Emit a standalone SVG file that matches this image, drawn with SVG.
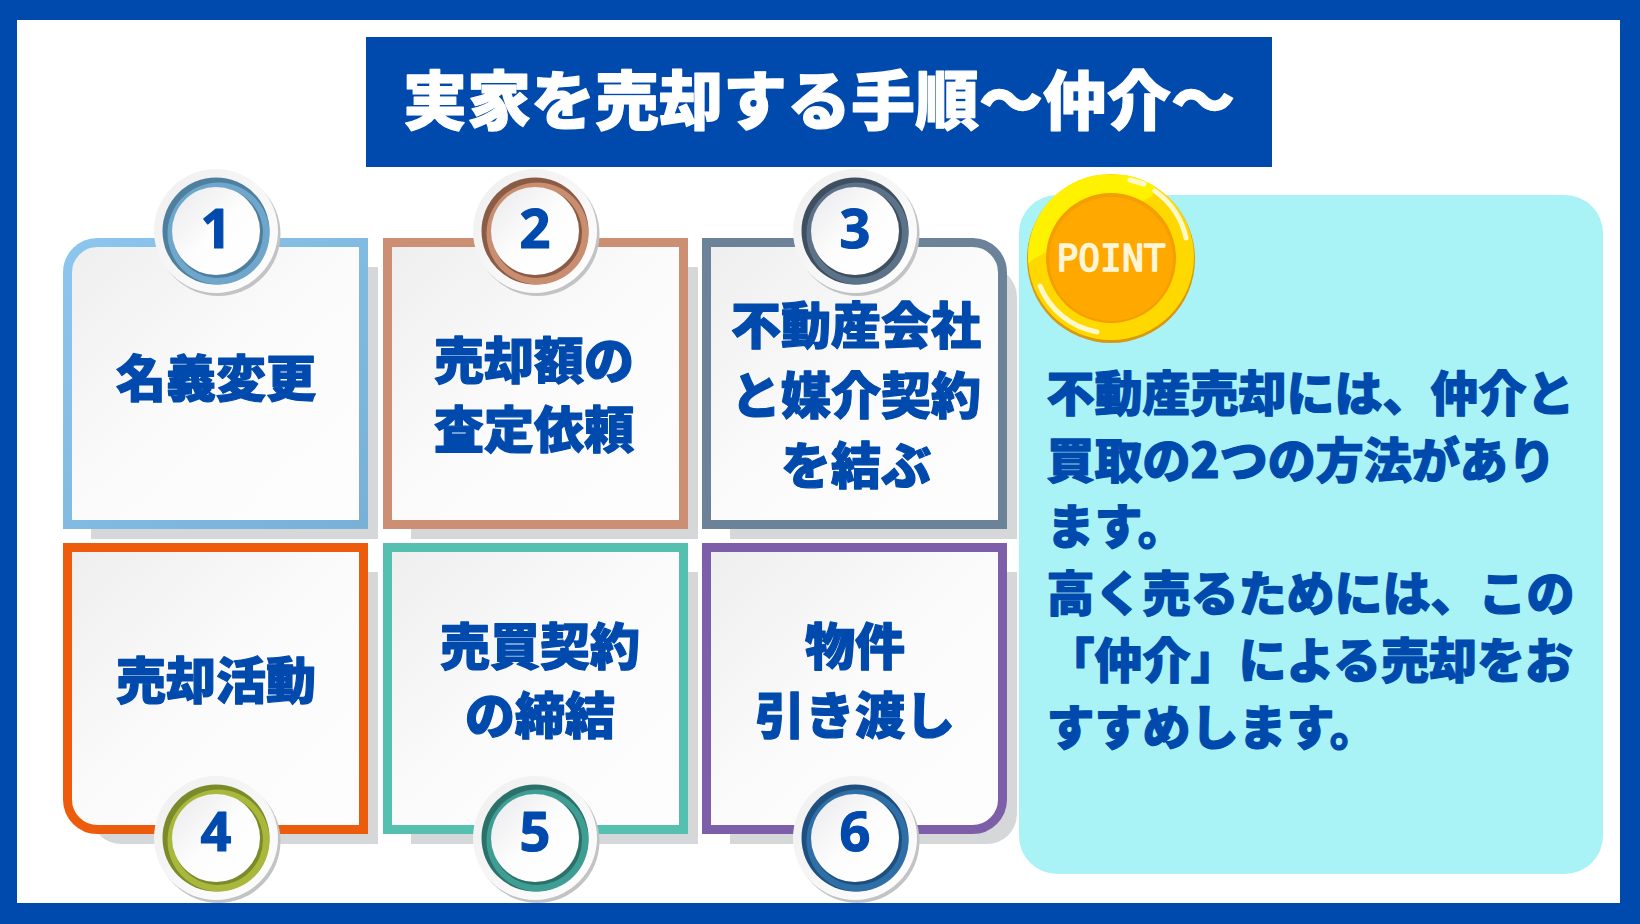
<svg xmlns="http://www.w3.org/2000/svg" width="1640" height="924" viewBox="0 0 1640 924">
<style>
text{font-family:"Noto Sans CJK JP","Noto Sans",sans-serif;font-weight:900;fill:#004aad;stroke:#004aad;stroke-width:1.2px;stroke-linejoin:round}
.c{text-anchor:middle;font-size:50px}
.b{font-size:48px}
.n{text-anchor:middle;font-family:"Noto Sans","Open Sans",sans-serif;font-weight:700;font-size:54px}
.sh{fill:#d6d7d9}
.card{fill:url(#paper);stroke-width:9}
</style>
<defs>
<linearGradient id="paper" x1="0" y1="0" x2="1" y2="1"><stop offset="0" stop-color="#eeeeef"/><stop offset=".5" stop-color="#fbfbfc"/><stop offset="1" stop-color="#fdfdfd"/></linearGradient>
<linearGradient id="disc" x1="0" y1="0" x2="1" y2="1"><stop offset="0" stop-color="#e9e9ec"/><stop offset=".5" stop-color="#fdfdfd"/><stop offset="1" stop-color="#ffffff"/></linearGradient>
<linearGradient id="halo" x1="0" y1="0" x2="1" y2="1"><stop offset="0" stop-color="#efeff0"/><stop offset="1" stop-color="#fefefe"/></linearGradient>
<linearGradient id="edge1" x1="0" y1="0" x2="1" y2="1"><stop offset="0" stop-color="#8cc6ee"/><stop offset="1" stop-color="#78b0d6"/></linearGradient>
<clipPath id="coinTop"><polygon points="1020,175 1160,175 1152,196 1035,258 1020,270"/></clipPath>
<g id="badge">
<circle cx="2.500" cy="3" r="62" fill="#c2c3c5"/>
<circle r="62" fill="url(#halo)"/>
</g>
</defs>
<rect width="1640" height="924" fill="#004aad"/>
<rect x="17" y="20" width="1603" height="883" fill="#fff"/>
<g id="title"><rect x="366" y="37" width="906" height="130" fill="#004aad"/>
<text x="819" y="124" text-anchor="middle" font-size="64" style="fill:#fff;stroke:#fff">実家を売却する手順〜仲介〜</text></g>
<g id="shadows">
<rect class="sh" x="91" y="267" width="287" height="272"/>
<rect class="sh" x="411" y="267" width="287" height="272"/>
<path class="sh" d="M730 267H987a30 30 0 0 1 30 30V539H730Z"/>
<path class="sh" d="M91 572H378V844H121a30 30 0 0 1-30-30Z"/>
<rect class="sh" x="411" y="572" width="287" height="272"/>
<path class="sh" d="M730 572H1017V814a30 30 0 0 1-30 30H730Z"/>
</g>
<g id="node1"><path class="card" stroke="url(#edge1)" d="M67.500 272.500a30 30 0 0 1 30-30H363.500V524.500H67.500Z"/>
<use href="#badge" x="216" y="231"/><circle cx="216" cy="231" r="53.500" fill="#4e7f9e"/><circle cx="218.500" cy="233.500" r="51" fill="#6fa6cb"/><circle cx="218" cy="233" r="45" fill="#4e7f9e"/><circle cx="216" cy="231" r="44" fill="url(#disc)"/>
<text class="n" x="216" y="248">1</text>
<text class="c" x="216" y="397">名義変更</text></g>
<g id="node2"><path class="card" stroke="#cc8f73" d="M387.500 242.500H683.500V524.500H387.500Z"/>
<use href="#badge" x="535" y="231"/><circle cx="535" cy="231" r="53.500" fill="#8b5c45"/><circle cx="537.500" cy="233.500" r="51" fill="#c98d70"/><circle cx="537" cy="233" r="45" fill="#8b5c45"/><circle cx="535" cy="231" r="44" fill="url(#disc)"/>
<text class="n" x="535" y="248">2</text>
<text class="c" x="534" y="379">売却額の</text><text class="c" x="534" y="448">査定依頼</text></g>
<g id="node3"><path class="card" stroke="#6b8299" d="M706.500 242.500H972.500a30 30 0 0 1 30 30V524.500H706.500Z"/>
<use href="#badge" x="855" y="231"/><circle cx="855" cy="231" r="53.500" fill="#3f4f60"/><circle cx="857.500" cy="233.500" r="51" fill="#5c7289"/><circle cx="857" cy="233" r="45" fill="#3f4f60"/><circle cx="855" cy="231" r="44" fill="url(#disc)"/>
<text class="n" x="855" y="248">3</text>
<text class="c" x="856" y="344">不動産会社</text><text class="c" x="856" y="414">と媒介契約</text><text class="c" x="856" y="484">を結ぶ</text></g>
<g id="node4"><path class="card" stroke="#ec5c0c" d="M67.500 547.500H363.500V829.500H97.500a30 30 0 0 1-30-30Z"/>
<use href="#badge" x="216" y="838"/><circle cx="216" cy="838" r="53.500" fill="#7b8a2a"/><circle cx="218.500" cy="840.500" r="51" fill="#a9b83a"/><circle cx="218" cy="840" r="45" fill="#7b8a2a"/><circle cx="216" cy="838" r="44" fill="url(#disc)"/>
<text class="n" x="216" y="851">4</text>
<text class="c" x="216" y="699">売却活動</text></g>
<g id="node5"><path class="card" stroke="#55c0b0" d="M387.500 547.500H683.500V829.500H387.500Z"/>
<use href="#badge" x="535" y="838"/><circle cx="535" cy="838" r="53.500" fill="#2b7069"/><circle cx="537.500" cy="840.500" r="51" fill="#3f9e93"/><circle cx="537" cy="840" r="45" fill="#2b7069"/><circle cx="535" cy="838" r="44" fill="url(#disc)"/>
<text class="n" x="535" y="851">5</text>
<text class="c" x="540" y="665">売買契約</text><text class="c" x="540" y="734">の締結</text></g>
<g id="node6"><path class="card" stroke="#7c5fa8" d="M706.500 547.500H1002.500V799.500a30 30 0 0 1-30 30H706.500Z"/>
<use href="#badge" x="855" y="838"/><circle cx="855" cy="838" r="53.500" fill="#1f4f80"/><circle cx="857.500" cy="840.500" r="51" fill="#2f6fa8"/><circle cx="857" cy="840" r="45" fill="#1f4f80"/><circle cx="855" cy="838" r="44" fill="url(#disc)"/>
<text class="n" x="855" y="851">6</text>
<text class="c" x="855" y="665">物件</text><text class="c" x="855" y="734">引き渡し</text></g>
<g id="panel"><rect x="1019" y="195" width="584" height="679" rx="38" fill="#a9f3f6"/>
<text class="b" x="1046.500" y="411">不動産売却には、仲介と</text>
<text class="b" x="1046.500" y="478">買取の2つの方法があり</text>
<text class="b" x="1046.500" y="544">ます。</text>
<text class="b" x="1046.500" y="611">高く売るためには、この</text>
<text class="b" x="1046.500" y="678">「仲介」による売却をお</text>
<text class="b" x="1046.500" y="745">すすめします。</text></g>
<g id="point"><circle cx="1111" cy="259" r="84" fill="#d9980f"/><circle cx="1111" cy="257" r="83" fill="#ffd800"/>
<circle cx="1111" cy="257" r="83" fill="#fff200" clip-path="url(#coinTop)"/>
<circle cx="1111" cy="258" r="65" fill="#f59e00"/><circle cx="1111" cy="259" r="62" fill="#ffa800"/>
<path d="M1155 191A78 78 0 0 1 1186 238M1130 180L1144 184M1040 286A76 76 0 0 0 1097 332" fill="none" stroke="#fff8c8" stroke-width="5" stroke-linecap="round"/>
<text x="1111" y="271" text-anchor="middle" font-size="38" textLength="109" lengthAdjust="spacingAndGlyphs" style="font-family:'DejaVu Sans Mono',monospace;font-weight:400;fill:#fff6d8;stroke:#fff6d8;stroke-width:1.5px">POINT</text></g>
</svg>
